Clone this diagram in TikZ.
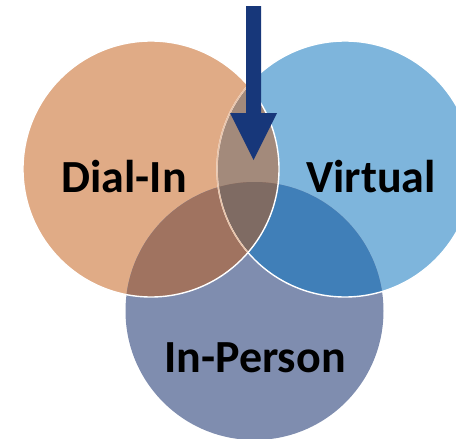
\documentclass[tikz,border=0pt]{standalone}
\usepackage{fontspec}
\setmainfont{Carlito}
\definecolor{cL}{HTML}{E0AB86}
\definecolor{cR}{HTML}{7EB5DC}
\definecolor{cB}{HTML}{7F8DAF}
\definecolor{cLB}{HTML}{A07360}
\definecolor{cRB}{HTML}{407FB8}
\definecolor{cLR}{HTML}{A38A7B}
\definecolor{cC}{HTML}{7F6B63}
\definecolor{cArrow}{HTML}{17377A}
\begin{document}
\begin{tikzpicture}[x=1pt,y=-1pt,
  lbl/.style={font=\fontsize{46}{46}\selectfont\bfseries, text=black, anchor=base, inner sep=0pt},
  rim/.style={draw=white, line width=1.4pt}]
\useasboundingbox (0,0) rectangle (456,439);
\clip (0,0) rectangle (456,439);
\coordinate (L) at (151,169);
\coordinate (R) at (345,169);
\coordinate (B) at (254.5,311);
% single regions
\fill[cL] (L) circle [radius=128pt];
\fill[cR] (R) circle [radius=128pt];
\fill[cB] (B) circle [radius=129pt];
% pairwise overlaps
\begin{scope}
  \clip (R) circle [radius=128pt];
  \fill[cRB] (B) circle [radius=129pt];
\end{scope}
\begin{scope}
  \clip (L) circle [radius=128pt];
  \fill[cLR] (R) circle [radius=128pt];
  \fill[cLB] (B) circle [radius=129pt];
  \clip (R) circle [radius=128pt];
  \fill[cC] (B) circle [radius=129pt];
\end{scope}
% rims
\draw[rim] (R) circle [radius=128pt];
\begin{scope}
  \clip (L) circle [radius=128pt];
  \draw[draw=cL!70!white, line width=1.4pt] (R) circle [radius=128pt];
\end{scope}
\draw[rim] (L) circle [radius=128pt];
% arrow
\fill[cArrow] (246,6) -- (261,6) -- (261,113) -- (277,113) -- (253.5,160) -- (230,113) -- (246,113) -- cycle;
% labels
\node[lbl] (dial) at (124,192) {Dial-In};
\node[lbl] (virt) at (371,192) {Virtual};
\node[lbl] (pers) at (255,372) {In-Person};
\end{tikzpicture}
\end{document}
